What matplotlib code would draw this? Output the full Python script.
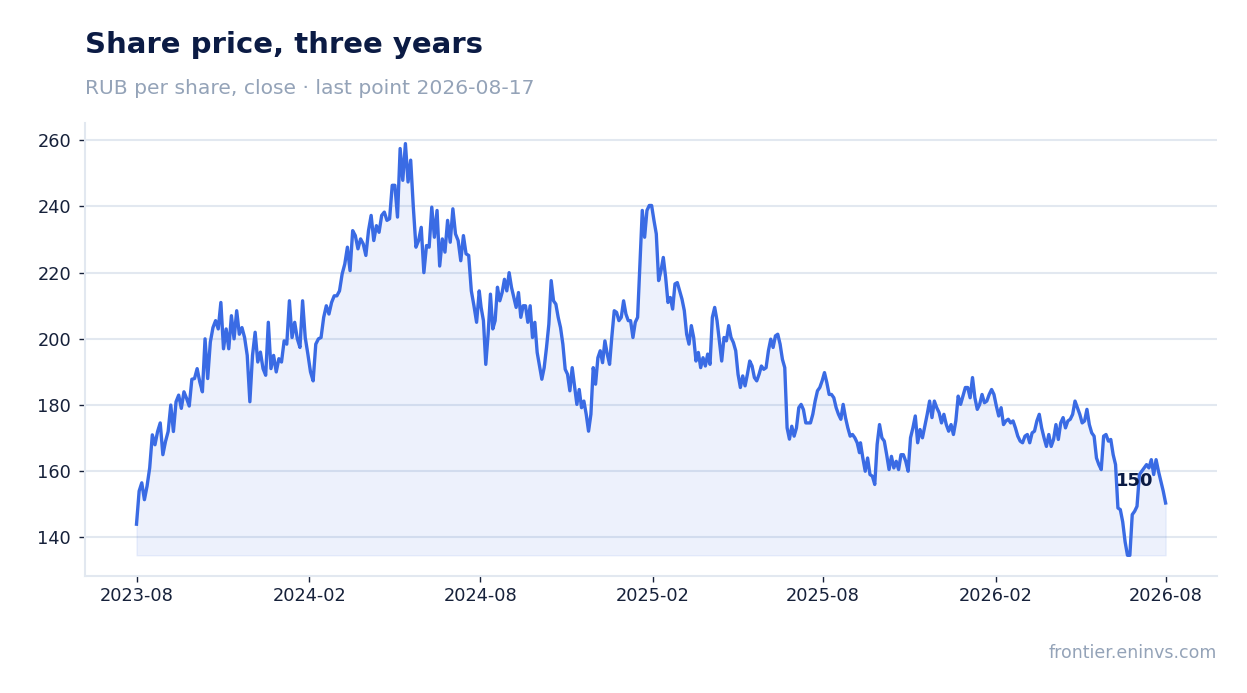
import matplotlib
matplotlib.use("Agg")
import matplotlib.pyplot as plt
import matplotlib.dates as mdates
import numpy as np
import pandas as pd

# closes, in three stretches
seg1_start, seg1_end = "2023-08-17", "2024-08-16"
seg1 = [
    144, 154, 156.5, 151.4, 155.5, 161, 171, 168, 172, 174.6,
    165, 169, 172, 180, 172, 181, 183, 179, 184, 182,
    179.7, 187.8, 188, 191, 187, 184, 200, 188, 199, 203.4,
    205.5, 203, 211, 197, 203, 197, 207, 200, 208.5, 201.4,
    203.4, 200.4, 195, 181, 195, 202, 193, 196, 191, 189,
    205, 191, 195, 190, 194, 193, 199.4, 198.4, 211.5, 200.4,
    205, 200, 197.4, 211.5, 200.4, 195.4, 190, 187.3, 198.4, 200,
    200.4, 206.5, 210, 207.5, 211, 213, 213, 214.5, 219.6, 222.6,
    227.7, 220.6, 232.7, 231.2, 227.2, 230.2, 228.7, 225.2, 232.7, 237.3,
    229.7, 234.2, 232.2, 237.3, 238.3, 235.8, 236.3, 246.4, 246.4, 236.8,
    257.5, 247.9, 259, 247.4, 254, 239.8, 227.7, 229.7, 233.7, 220,
    228.2, 227.7, 239.8, 230.7, 238.8, 222, 230.2, 226.2, 235.8, 229.2,
    239.3, 231.7, 229.7, 223.6, 231.2, 225.7, 225.2, 214.5, 210, 205,
    214.5,
]
seg2_start, seg2_end = "2024-08-18", "2025-09-25"
seg2 = [
    209.5, 205.5, 192.3, 201.4, 213.5, 203, 205.5, 215.6, 211.5, 214,
    218, 214.5, 220, 215.6, 212.5, 209.5, 214, 206.5, 210, 210,
    205, 210, 200.4, 205, 195.9, 191.8, 187.8, 191.3, 197.4, 204.4,
    217.6, 211.5, 210.5, 206.5, 203.4, 198.4, 190.8, 189.3, 184.3, 191.3,
    185.8, 180.2, 184.7, 179.2, 181.2, 177.2, 172.1, 177.2, 191.3, 186.3,
    194.3, 196.4, 192.8, 199.4, 195.4, 192.3, 200.9, 208.5, 208, 205.5,
    206.5, 211.5, 207.5, 205.5, 205.5, 200.4, 205, 206.5, 222.6, 238.8,
    230.7, 238.8, 240.3, 240.3, 235.8, 231.7, 217.6, 220.6, 224.6, 218.6,
    211, 212.5, 209, 216.6, 217, 214.5, 212, 208.5, 201.4, 198.4,
    204, 200.4, 193.3, 195.9, 191.3, 194.3, 191.8, 195.4, 192.3, 206.5,
    209.5, 205.5, 199.4, 193.3, 200.4, 199.4, 204, 200.4, 198.9, 196.4,
    189.3, 185.3, 188.8, 185.8, 189.3, 193.3, 191.8, 188.3, 187.3, 189.3,
    191.8, 190.8, 191.3, 196.4, 199.9, 197.4, 200.9, 201.4, 198.4, 193.8,
    191.3, 173.1, 169.7, 173.6, 170.6, 173.1, 179.2, 180.2, 178.6, 174.6,
    174.6, 174.6, 177.2, 181.2, 184.3, 185.3, 187.3, 189.8, 186.8, 183.2,
    183.2, 182.2, 179.2, 177.2, 175.7, 180.2, 176.2, 173.1, 170.6, 171.1,
    170.1, 168.6, 165.6,
]
seg3_start, seg3_end = "2025-09-26", "2026-08-17"
seg3 = [
    168.6, 164, 160, 164, 159, 158.5, 156, 168.1, 174.1, 170.1,
    169.1, 165, 160.5, 164.5, 161, 163, 160.5, 165, 165, 163,
    160, 170.1, 173.1, 176.7, 168.6, 172.6, 170.1, 173.6, 177.2, 181.2,
    176.2, 181.2, 179.2, 177.7, 174.6, 177.2, 174.1, 172.1, 174.1, 171.1,
    175.2, 182.7, 180.2, 182.7, 185.3, 185.3, 182.2, 188.3, 182.2, 178.7,
    180.2, 183.2, 180.7, 181.2, 183.2, 184.7, 183.2, 179.7, 176.7, 179.2,
    174.1, 175.2, 175.7, 174.6, 175.2, 173.1, 170.6, 169.1, 168.6, 170.6,
    171.1, 168.6, 171.6, 172.1, 175.2, 177.2, 173.1, 170.1, 167.5, 171.1,
    167.5, 169.6, 174.1, 169.6, 174.6, 176.2, 173.1, 175.2, 175.7, 177.2,
    181.2, 179.2, 177.2, 174.6, 175.2, 178.7, 174.1, 171.6, 170.6, 164,
    162, 160.5, 170.6, 171.1, 169.1, 169.6, 165, 162, 148.9, 148.4,
    144.7, 138.7, 134.6, 134.6, 146.9, 147.9, 149.4, 159, 160, 161,
    162, 161, 163.5, 159, 163.5, 160, 157, 154, 150.4,
]

dates = pd.DatetimeIndex(np.concatenate([
    pd.date_range(seg1_start, seg1_end, periods=len(seg1)).values,
    pd.date_range(seg2_start, seg2_end, periods=len(seg2)).values,
    pd.date_range(seg3_start, seg3_end, periods=len(seg3)).values,
]))
close = np.array(seg1 + seg2 + seg3)

navy = "#0b1b44"
blue = "#3a6be4"
muted = "#94a3b8"
grid = "#e2e8f0"

fig = plt.figure(figsize=(12.47, 6.93), dpi=100)
ax = fig.add_axes([0.0682, 0.169, 0.9078, 0.6535])

ax.fill_between(dates, close, close.min(), color=blue, alpha=0.09, lw=1, zorder=1)
ax.plot(dates, close, color=blue, lw=2.4, solid_joinstyle="round", zorder=3)

ax.annotate(f"{close[-1]:.0f}", (dates[-1], close[-1]), xytext=(-12, 22),
            textcoords="offset pixels", ha="right", va="center",
            fontsize=13, fontweight="bold", color=navy, zorder=4)

ax.xaxis.set_major_locator(mdates.MonthLocator(bymonth=[2, 8], bymonthday=17))
ax.xaxis.set_major_formatter(mdates.DateFormatter("%Y-%m"))
ax.set_yticks(np.arange(140, 261, 20))

ax.grid(axis="y", color=grid, lw=1.5, zorder=0)
ax.grid(axis="x", visible=False)
ax.set_axisbelow(True)
for side in ("top", "right"):
    ax.spines[side].set_visible(False)
for side in ("left", "bottom"):
    ax.spines[side].set_color(grid)
    ax.spines[side].set_linewidth(1.5)
ax.tick_params(axis="both", colors="#16213a", labelsize=12.8, length=4, width=1)
ax.tick_params(axis="x", pad=4)
ax.tick_params(axis="y", pad=6)

fig.text(0.0682, 0.923, "Share price, three years", fontsize=21, fontweight="bold",
         color=navy, ha="left", va="baseline")
fig.text(0.0682, 0.864, "RUB per share, close \u00b7 last point 2026-08-17", fontsize=14.6,
         color=muted, ha="left", va="baseline")
fig.text(0.976, 0.0505, "frontier.eninvs.com", fontsize=12.5, color=muted,
         ha="right", va="baseline")

fig.savefig("out.png", dpi=100)
